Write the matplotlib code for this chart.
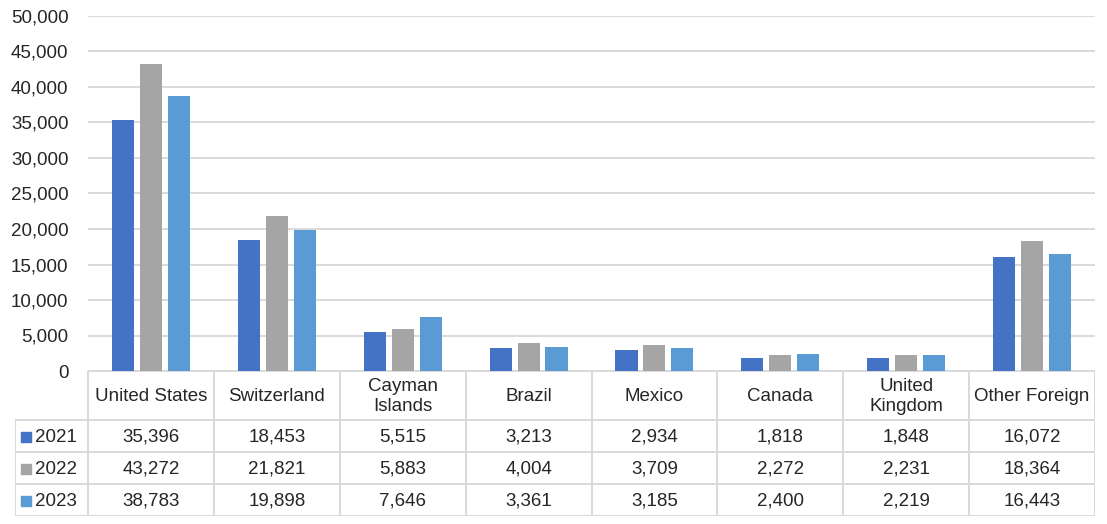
import matplotlib.pyplot as plt
import numpy as np

# data
countries = ["United States", "Switzerland", "Cayman\nIslands", "Brazil", "Mexico",
             "Canada", "United\nKingdom", "Other Foreign"]
years = ["2021", "2022", "2023"]
v2021 = [35396, 18453, 5515, 3213, 2934, 1818, 1848, 16072]
v2022 = [43272, 21821, 5883, 4004, 3709, 2272, 2231, 18364]
v2023 = [38783, 19898, 7646, 3361, 3185, 2400, 2219, 16443]
series = [v2021, v2022, v2023]
colors = ["#4472C4", "#A5A5A5", "#5B9BD5"]
grid_c = "#D9D9D9"
txt_c = "#262626"
fs = 13.5

plt.rcParams['font.family'] = ['Liberation Sans', 'DejaVu Sans']
W, H = 1107, 524
fig = plt.figure(figsize=(W / 100, H / 100), dpi=100)

# plot area in pixels
px_left, px_right, px_top, px_zero = 88, 1095, 16, 371
ax = fig.add_axes([px_left / W, 1 - px_zero / H, (px_right - px_left) / W, (px_zero - px_top) / H])
n = len(countries)
x = np.arange(n)
bw = 0.175
step = 0.222
for i, vals in enumerate(series):
    ax.bar(x + (i - 1) * step, vals, width=bw, color=colors[i], zorder=3)
ax.set_xlim(-0.5, n - 0.5)
ax.set_ylim(0, 50000)
ax.set_yticks(range(0, 50001, 5000))
ax.set_yticklabels([f"{t:,}" for t in range(0, 50001, 5000)], fontsize=fs, color=txt_c)
ax.yaxis.grid(True, color=grid_c, linewidth=1.4, zorder=0)
ax.tick_params(axis='y', length=0, pad=14)
ax.set_xticks([])
for s in ax.spines.values():
    s.set_visible(False)

# data table below
tb_left, tb_bottom = 15, 516
ext = (px_left - tb_left) / (px_right - px_left) * n
tx = fig.add_axes([tb_left / W, 1 - tb_bottom / H, (px_right - tb_left) / W, (tb_bottom - px_zero) / H])
tx.set_xlim(-0.5 - ext, n - 0.5)
tx.set_ylim(tb_bottom, px_zero)
tx.axis('off')
rows = [px_zero, 420, 452, 484, tb_bottom]
lw = 1.4
# horizontal lines
tx.plot([-0.5, n - 0.5], [px_zero, px_zero], color=grid_c, lw=lw)
for y in rows[1:]:
    tx.plot([-0.5 - ext, n - 0.5], [y, y], color=grid_c, lw=lw)
# vertical lines
for k in range(n + 1):
    tx.plot([k - 0.5, k - 0.5], [px_zero, tb_bottom], color=grid_c, lw=lw)
tx.plot([-0.5 - ext, -0.5 - ext], [420, tb_bottom], color=grid_c, lw=lw)

for k, c in enumerate(countries):
    tx.text(k, (rows[0] + rows[1]) / 2 + 1, c, ha='center', va='center', fontsize=fs,
            color=txt_c, linespacing=1.3)
for i, vals in enumerate(series):
    yc = (rows[i + 1] + rows[i + 2]) / 2 + 1
    for k, v in enumerate(vals):
        tx.text(k, yc, f"{v:,}", ha='center', va='center', fontsize=fs, color=txt_c)
    tx.text(-0.5 - ext + 0.155, yc, years[i], ha='left', va='center', fontsize=fs, color=txt_c)
    tx.scatter([-0.5 - ext + 0.085], [yc], marker='s', s=60, color=colors[i])

fig.savefig("out.png", dpi=100, facecolor="white")
